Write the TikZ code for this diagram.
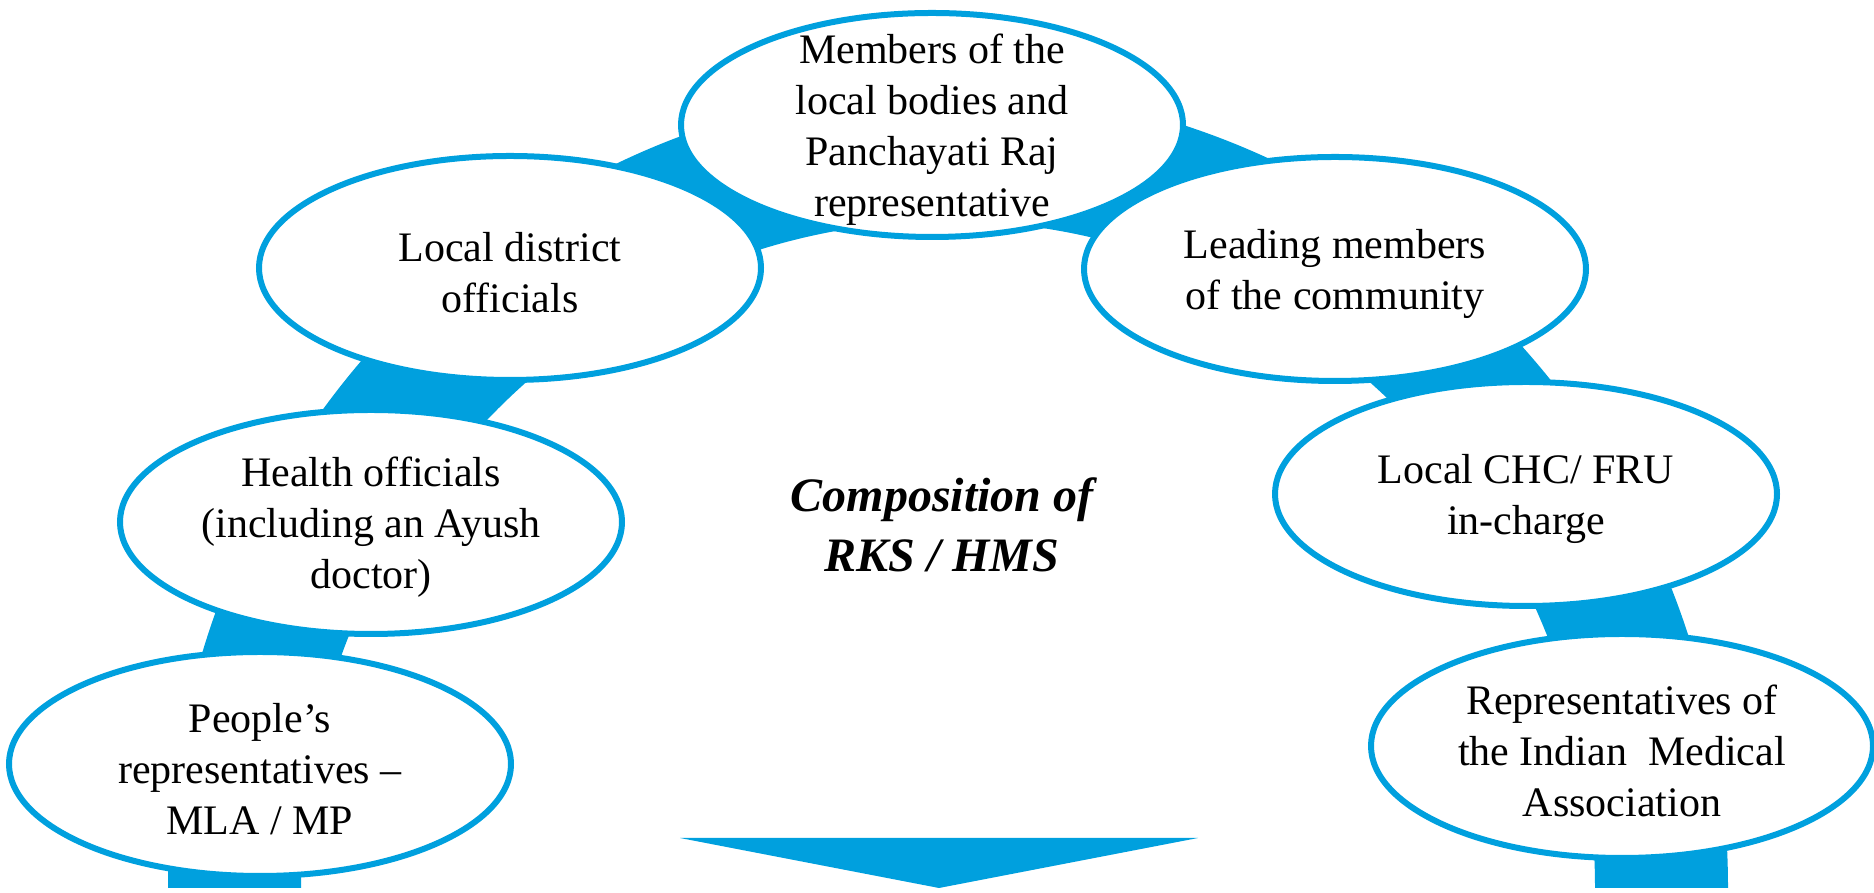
\documentclass[tikz,border=0pt]{standalone}
\usepackage{fontspec}
\setmainfont{Liberation Serif}
\usepackage{tikz}
\usetikzlibrary{shapes.geometric}
\definecolor{arcblue}{RGB}{0,160,222}

\begin{document}
\begin{tikzpicture}[
        x=0.5pt, y=0.5pt,
        % Styles
        member/.style={
            ellipse,
            draw=arcblue,
            line width=3pt,
            fill=white,
            minimum width=251pt,
            minimum height=112pt,
            inner sep=0pt
          },
        caption/.style={
            align=center,
            inner sep=0pt,
            yshift=-2.5pt,
            font=\fontsize{21}{25.5}\selectfont
          },
        heading/.style={
            align=center,
            inner sep=0pt,
            font=\fontsize{24}{30}\selectfont\bfseries\itshape
          },
        band/.style={
            fill=arcblue
          }
      ]
      \useasboundingbox (0,0) rectangle (1874,893);

      % Arc band (drawn first, behind the ellipses)
      \fill[band] (168,5) arc[start angle=180, end angle=0, x radius=780, y radius=800]
        -- (1595,5) arc[start angle=0, end angle=180, x radius=647, y radius=667] -- cycle;

      % Arrow head at the bottom
      \coordinate (headL) at (680,55);
      \coordinate (headR) at (1198,55);
      \coordinate (headTip) at (939,5);
      \fill[band] (headL) -- (headR) -- (headTip) -- cycle;

      % Ellipses
      \node[member] (people) at (260,129) {};
      \node[member] (health) at (371,371) {};
      \node[member] (district) at (510,625) {};
      \node[member] (local) at (932,768) {};
      \node[member] (leading) at (1335,624) {};
      \node[member] (chc) at (1526,399) {};
      \node[member] (ima) at (1622,147) {};

      % Texts
      \node[caption] (peopleTxt) at (people) {People’s\\representatives –\\MLA / MP};
      \node[caption] (healthTxt) at (health) {Health officials\\(including an Ayush\\doctor)};
      \node[caption] (districtTxt) at (district) {Local district\\officials};
      \node[caption] (localTxt) at (local) {Members of the\\local bodies and\\Panchayati Raj\\representative};
      \node[caption] (leadingTxt) at (leading) {Leading members\\of the community};
      \node[caption] (chcTxt) at (chc) {Local CHC/ FRU\\in-charge};
      \node[caption] (imaTxt) at (ima) {Representatives of\\the Indian\ \ Medical\\Association};

      % Centre heading
      \node[heading] (rks) at (942,368) {Composition of\\RKS / HMS};

    \end{tikzpicture}
\end{document}
